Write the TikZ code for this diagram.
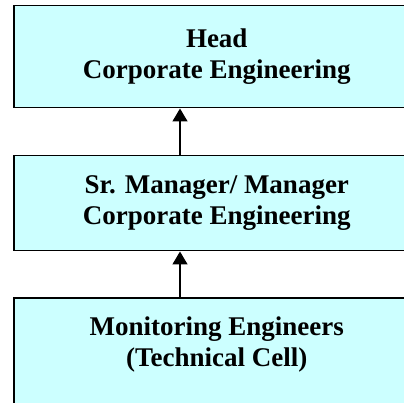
\documentclass[tikz,border=0pt]{standalone}
\usepackage{fontspec}
\setmainfont{Liberation Serif}
\usetikzlibrary{arrows.meta}
\definecolor{boxfill}{HTML}{CCFFFF}
\tikzset{
    orgbox/.style={draw=black, line width=1.5pt, fill=boxfill, align=center,
        font=\fontsize{27}{31}\selectfont\bfseries, minimum width=406pt, inner sep=0pt},
    orgtext/.style={align=center, font=\fontsize{27}{31}\selectfont\bfseries, inner sep=0pt},
    uparrow/.style={->, line width=1.5pt}
}
\begin{document}
\begin{tikzpicture}[>={Triangle[width=15pt,length=13pt]}, x=1pt, y=-1pt]

    % Frame of the page
    \useasboundingbox (0,0) rectangle (404,403);
    \clip (0,0) rectangle (404,403);

    % Boxes of the chart
    \node[orgbox, anchor=north west, minimum height=102pt] (head) at (13,5)
        {Head\\Corporate Engineering};
    \node[orgbox, anchor=north west, minimum height=95pt] (mgr) at (13,155)
        {Sr. Manager/ Manager\\Corporate Engineering};
    \node[orgbox, anchor=north west, minimum height=150pt] (eng) at (13,297) {};
    \node[orgtext, anchor=north] (engtext) at ([yshift=-20pt]eng.north)
        {Monitoring Engineers\\(Technical Cell)};

    % Arrows up the chain
    \coordinate (arr) at (180,0);
    \draw[uparrow] (mgr.north -| arr) -- (head.south -| arr);
    \draw[uparrow] (eng.north -| arr) -- (mgr.south -| arr);

\end{tikzpicture}
\end{document}
